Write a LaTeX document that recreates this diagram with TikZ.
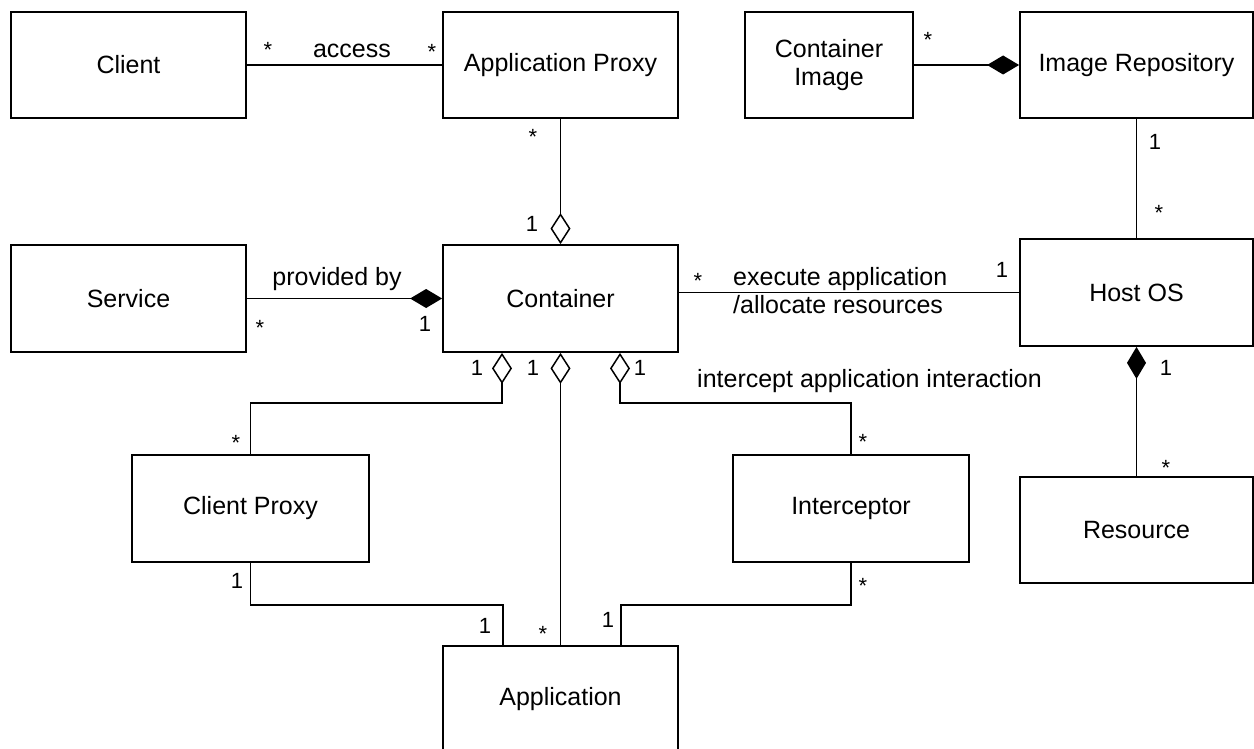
\documentclass[tikz,border=0pt]{standalone}
\usepackage{fontspec}
\setmainfont{Liberation Sans}
\usetikzlibrary{arrows.meta}
\begin{document}
\begin{tikzpicture}[x=1pt,y=-1pt,
  box/.style={draw, line width=1.8pt, minimum width=235pt, minimum height=106pt, inner sep=0pt, font=\fontsize{25}{28}\selectfont, align=center},
  conn/.style={line width=1.8pt},
  agg/.style={conn, -{Diamond[open,length=31pt,width=20pt,line width=1.5pt]}},
  comp/.style={conn, -{Diamond[length=32pt,width=19pt]}},
  lab/.style={font=\fontsize{25}{28}\selectfont, anchor=base, inner sep=0pt},
  lableft/.style={lab, anchor=base west},
  mult/.style={font=\fontsize{22}{24}\selectfont, anchor=base, inner sep=0pt}]
\useasboundingbox (0,0) rectangle (1254,749);
\fill[white] (0,0) rectangle (1254,749);

% classes
\node[box] (client) at (128.5,65) {Client};
\node[box] (approxy) at (560.5,65) {Application Proxy};
\node[box, minimum width=168pt] (cimage) at (829,65) {Container\\Image};
\node[box, minimum width=233pt] (imgrepo) at (1136.5,65) {Image Repository};
\node[box, minimum height=107pt] (service) at (128.5,298.5) {Service};
\node[box, minimum height=107pt] (container) at (560.5,298.5) {Container};
\node[box, minimum width=233pt, minimum height=107pt] (hostos) at (1136.5,292.5) {Host OS};
\node[box, minimum width=237pt, minimum height=107pt] (clientproxy) at (250.5,508.5) {Client Proxy};
\node[box, minimum width=236pt, minimum height=107pt] (interceptor) at (851,508.5) {Interceptor};
\node[box, minimum width=233pt] (resource) at (1136.5,530) {Resource};
\node[box] (application) at (560.5,699) {Application};

% helper coordinates
\coordinate (hl) at (0,403);
\coordinate (hl2) at (0,605);
\coordinate (cs1) at ([xshift=-58.5pt]container.south);
\coordinate (cs3) at ([xshift=59.5pt]container.south);
\coordinate (an1) at ([xshift=-57.5pt]application.north);
\coordinate (an3) at ([xshift=60.5pt]application.north);

% connectors
\draw[conn] (client.east) -- (approxy.west);
\draw[agg] (approxy.south) -- (container.north);
\draw[comp] (cimage.east) -- (imgrepo.west);
\draw[conn] (imgrepo.south) -- (hostos.north);
\draw[comp] (service.east) -- (container.west);
\draw[conn] (container.east |- hostos.west) -- (hostos.west);
\draw[comp] (resource.north) -- (hostos.south);
\draw[agg] (clientproxy.north) |- (cs1 |- hl) -- (cs1);
\draw[agg] (application.north) -- (container.south);
\draw[agg] (interceptor.north) |- (cs3 |- hl) -- (cs3);
\draw[conn] (clientproxy.south) |- (an1 |- hl2) -- (an1);
\draw[conn] (interceptor.south) |- (an3 |- hl2) -- (an3);

% labels
\node[mult] (m1) at (268,58) {*};
\node[lab] (l1) at (352,58) {access};
\node[mult] (m2) at (432,60) {*};
\node[mult] (m3) at (533,145) {*};
\node[mult] (m4) at (532,232) {1};
\node[mult] (m5) at (928,48) {*};
\node[mult] (m6) at (1155,150) {1};
\node[mult] (m7) at (1159,221) {*};
\node[lab] (l2) at (337,285) {provided by};
\node[mult] (m8) at (260,335) {*};
\node[mult] (m9) at (425,331) {1};
\node[mult] (m10) at (698,288) {*};
\node[lableft] (l3) at (733,285) {execute application};
\node[lableft] (l4) at (733,313) {/allocate resources};
\node[mult] (m11) at (1002,277) {1};
\node[mult] (m12) at (477,375) {1};
\node[mult] (m13) at (533,375) {1};
\node[mult] (m14) at (640,375) {1};
\node[lableft] (l5) at (697,387) {intercept application interaction};
\node[mult] (m15) at (1166,375) {1};
\node[mult] (m16) at (236,450) {*};
\node[mult] (m17) at (863,449) {*};
\node[mult] (m18) at (1166,475) {*};
\node[mult] (m19) at (237,588) {1};
\node[mult] (m20) at (863,593) {*};
\node[mult] (m21) at (485,633) {1};
\node[mult] (m22) at (543,641) {*};
\node[mult] (m23) at (608,627) {1};
\end{tikzpicture}
\end{document}
